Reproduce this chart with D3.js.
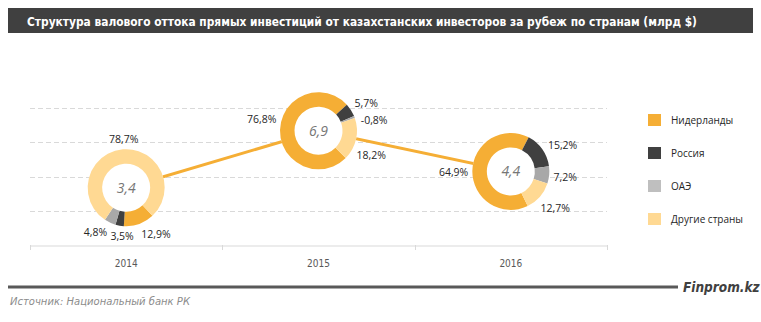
<!DOCTYPE html>
<html>
<head>
<meta charset="utf-8">
<script src="https://cdn.jsdelivr.net/npm/d3@7"></script>
<style>
  html, body { margin: 0; padding: 0; background: #fff; }
  svg { display: block; }
  .narrow { font-family: 'DejaVu Sans Condensed', 'DejaVu Sans', sans-serif; font-stretch: condensed; }
</style>
</head>
<body>
<div id="chart"></div>
<script>
// ── Data ───────────────────────────────────────────────────────────────
const YEARS = ["2014", "2015", "2016"];
const TOTALS = [3.4, 6.9, 4.4];                 // млрд $
const COUNTRIES = ["Нидерланды", "Россия", "ОАЭ", "Другие страны"];
const SHARE_NL = [12.9, 76.8, 64.9];
const SHARE_RU = [3.5, 5.7, 15.2];
const SHARE_UAE = [4.8, -0.8, 7.2];
const SHARE_OTHER = [78.7, 18.2, 12.7];
const GRID_TICKS = [2, 4, 6, 8];

const TITLE = "Структура валового оттока прямых инвестиций от казахстанских  инвесторов за рубеж по странам (млрд $)";
const SOURCE = "Источник:  Национальный банк РК";

// ── Look ───────────────────────────────────────────────────────────────
const COLORS = ["#f5ae35", "#404040", "#a8a8a8", "#ffd993"];
const LEGEND_COLORS = ["#f5ae35", "#404040", "#bfbfbf", "#ffd993"];
// rotation of the first slice (deg, clockwise from 12 o'clock) per donut
const START_DEG = [137, 135, 154];
// small angular shifts of the data labels (deg), like Excel's best fit
const LABEL_NUDGE = [[-13, -5, 10, 2], [11, 2, 10, 12], [-1, 8, 0, -2]];

const W = 761, H = 322;
const plot = { left: 30, right: 607, top: 108, bottom: 245 };
const R_OUT = 38.5, R_IN = 24;

const fmt = v => d3.format(".1f")(v).replace(".", ",").replace("\u2212", "-");

const svg = d3.select("#chart").append("svg")
    .attr("width", W).attr("height", H)
    .style("font-family", "'Open Sans', sans-serif");

// ── Title bar ──────────────────────────────────────────────────────────
svg.append("rect")
    .attr("x", 8).attr("y", 8).attr("width", 745).attr("height", 25)
    .attr("fill", "#404040");
svg.append("text")
    .attr("class", "narrow")
    .attr("x", 27).attr("y", 25.5)
    .attr("textLength", 670).attr("lengthAdjust", "spacingAndGlyphs")
    .style("font-weight", "700")
    .style("font-size", "13px")
    .style("fill", "#fff")
    .text(TITLE);

// ── Scales ─────────────────────────────────────────────────────────────
const x = d3.scaleBand().domain(YEARS).range([plot.left, plot.right]);
const yGrid = d3.scaleLinear().domain([0, 8]).range([plot.bottom, plot.top]);
const yVal = d3.scaleLinear().domain([0, 8.3]).range([plot.bottom - 2, plot.top]);

// gridlines
svg.append("g").selectAll("line")
    .data(GRID_TICKS)
    .join("line")
    .attr("x1", plot.left).attr("x2", plot.right)
    .attr("y1", d => Math.round(yGrid(d)) + 0.5)
    .attr("y2", d => Math.round(yGrid(d)) + 0.5)
    .attr("stroke", "#d9d9d9")
    .attr("stroke-dasharray", "5,3");

// x axis
const xAxis = svg.append("g")
    .attr("transform", `translate(0,${plot.bottom + 0.5})`)
    .call(d3.axisBottom(x).tickSize(0).tickPadding(14));
xAxis.select(".domain").attr("stroke", "#d9d9d9");
xAxis.selectAll("text")
    .attr("class", "narrow")
    .style("font-size", "10px")
    .style("fill", "#595959");
svg.append("g").selectAll("line")
    .data(YEARS.concat(["end"]))
    .join("line")
    .attr("x1", (d, i) => Math.round(plot.left + i * x.step()) + 0.5)
    .attr("x2", (d, i) => Math.round(plot.left + i * x.step()) + 0.5)
    .attr("y1", plot.bottom).attr("y2", plot.bottom + 5)
    .attr("stroke", "#d9d9d9");

// ── Connecting line ────────────────────────────────────────────────────
const centers = YEARS.map((yr, i) => ({ cx: x(yr) + x.bandwidth() / 2, cy: yVal(TOTALS[i]) }));
svg.append("path")
    .datum(centers)
    .attr("d", d3.line().x(d => d.cx).y(d => d.cy))
    .attr("fill", "none")
    .attr("stroke", "#f5ae35")
    .attr("stroke-width", 3);

// ── Donuts ─────────────────────────────────────────────────────────────
const arc = d3.arc().innerRadius(R_IN).outerRadius(R_OUT);
const rad = deg => deg * Math.PI / 180;

YEARS.forEach((yr, i) => {
    const shares = [SHARE_NL[i], SHARE_RU[i], SHARE_UAE[i], SHARE_OTHER[i]];
    const start = rad(START_DEG[i]);
    const pie = d3.pie().sort(null).value(d => Math.abs(d))
        .startAngle(start).endAngle(start + 2 * Math.PI);
    const { cx, cy } = centers[i];
    const g = svg.append("g").attr("transform", `translate(${cx},${cy})`);

    g.append("circle").attr("r", R_OUT).attr("fill", "#fff");
    g.selectAll("path")
        .data(pie(shares))
        .join("path")
        .attr("d", arc)
        .attr("fill", (d, k) => COLORS[k]);

    g.append("text")
        .attr("y", 5)
        .attr("text-anchor", "middle")
        .style("font-style", "italic")
        .style("font-size", "14px")
        .style("fill", "#767676")
        .text(fmt(TOTALS[i]));

    // data labels outside the ring
    pie(shares).forEach((s, k) => {
        const a = (s.startAngle + s.endAngle) / 2 + rad(LABEL_NUDGE[i][k]);
        const t = g.append("text")
            .attr("text-anchor", "middle")
            .attr("dominant-baseline", "central")
            .style("font-size", "10.5px")
            .style("fill", "#262626")
            .text(fmt(s.data) + "%");
        const w = t.node().getComputedTextLength(), h = 11;
        const dist = R_OUT + 4 + Math.abs(Math.sin(a)) * w / 2 + Math.abs(Math.cos(a)) * h / 2;
        t.attr("x", dist * Math.sin(a)).attr("y", -dist * Math.cos(a));
    });
});

// ── Legend ─────────────────────────────────────────────────────────────
const legend = svg.append("g").attr("transform", "translate(648,114)");
COUNTRIES.forEach((c, i) => {
    const row = legend.append("g").attr("transform", `translate(0,${i * 33})`);
    row.append("rect").attr("width", 13).attr("height", 12).attr("fill", LEGEND_COLORS[i]);
    row.append("text")
        .attr("x", 23).attr("y", 10)
        .style("font-size", "10px")
        .style("fill", "#262626")
        .text(c);
});

// ── Footer ─────────────────────────────────────────────────────────────
svg.append("line")
    .attr("x1", 8).attr("x2", 678)
    .attr("y1", 287).attr("y2", 287)
    .attr("stroke", "#595959").attr("stroke-width", 3);
svg.append("text")
    .attr("class", "narrow")
    .attr("x", 683).attr("y", 292)
    .style("font-weight", "700")
    .style("font-style", "italic")
    .style("font-size", "13.5px")
    .style("fill", "#404040")
    .text("Finprom.kz");
svg.append("text")
    .attr("class", "narrow")
    .attr("x", 10).attr("y", 305)
    .attr("textLength", 180).attr("lengthAdjust", "spacingAndGlyphs")
    .style("font-style", "italic")
    .style("font-size", "10.5px")
    .style("fill", "#8c8c8c")
    .text(SOURCE);
</script>
</body>
</html>
